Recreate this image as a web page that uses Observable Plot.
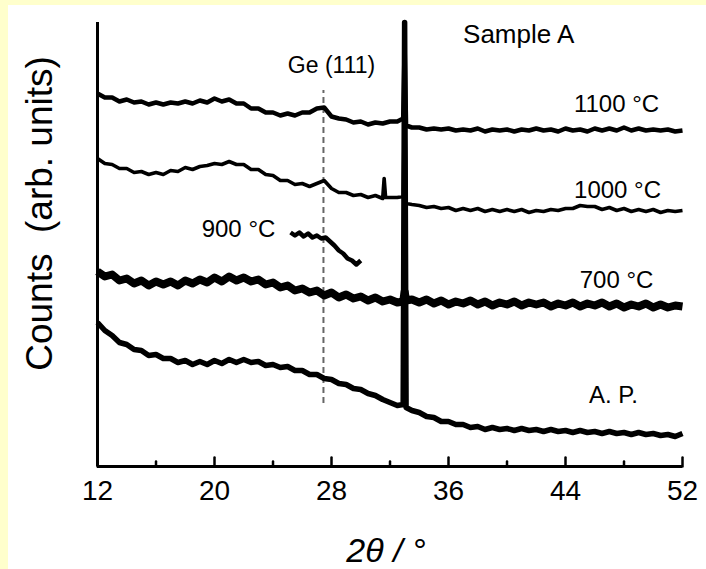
<!DOCTYPE html>
<html><head><meta charset="utf-8">
<script src="https://cdn.jsdelivr.net/npm/d3@7"></script>
<script src="https://cdn.jsdelivr.net/npm/@observablehq/plot@0.6"></script>
<style>
html,body{margin:0;padding:0;background:#FFFFCC;width:706px;height:569px;overflow:hidden}
#chart{position:absolute;left:8px;top:5px;width:698px;height:564px;background:#fff}
</style></head><body><div id="chart"></div>
<script>
// 2θ (degrees) and counts (arb. units)
const x1100 = [12,12.5,13,13.5,14,14.5,15,15.5,16,16.5,17,17.5,18,18.5,19,19.5,20,20.5,21,21.5,22,22.5,23,23.5,24,24.5,25,25.5,26,26.5,27,27.5,28,28.5,29,29.5,30,30.5,31,31.5,32,32.5,32.9,33,33.1,33.5,34,34.5,35,35.5,36,36.5,37,37.5,38,38.5,39,39.5,40,40.5,41,41.5,42,42.5,43,43.5,44,44.5,45,45.5,46,46.5,47,47.5,48,48.5,49,49.5,50,50.5,51,51.5,52];
const y1100 = [373,369,369,365,367,364,365,362,364,362,364,363,365,363,366,364,368,365,367,363,363,358,358,354,354,351,353,351,354,354,358,359,350,348,347,344,345,342,344,343,345,345,348,420,341,339,339,337,338,337,338,336,337,336,338,335,337,336,337,335,337,336,338,336,337,335,338,336,337,335,338,336,338,336,339,336,338,336,337,336,337,335,336];

const x1000 = [12,12.5,13,13.5,14,14.5,15,15.5,16,16.5,17,17.5,18,18.5,19,19.5,20,20.5,21,21.5,22,22.5,23,23.5,24,24.5,25,25.5,26,26.5,27,27.5,28,28.5,29,29.5,30,30.5,31,31.5,31.6,31.7,32,32.5,32.9,33,33.1,33.5,34,34.5,35,35.5,36,36.5,37,37.5,38,38.5,39,39.5,40,40.5,41,41.5,42,42.5,43,43.5,44,44.5,45,45.5,46,46.5,47,47.5,48,48.5,49,49.5,50,50.5,51,51.5,52];
const y1000 = [308,303,302,298,298,294,295,292,294,292,296,295,299,297,300,301,303,302,305,302,302,297,297,292,291,286,286,282,283,280,283,286,278,274,274,271,272,269,271,268,288,269,269,269,270,380,263,262,261,259,260,258,259,256,258,256,258,255,257,255,257,255,257,254,256,255,257,256,258,258,261,260,260,257,259,256,258,255,257,255,257,254,256,255,256];

const x900 = [25.2,25.5,25.8,26.1,26.4,26.7,27,27.3,27.6,27.9,28.2,28.5,28.8,29.1,29.4,29.7,30];
const y900 = [234,231,234,230,233,229,231,228,229,225,221,216,213,208,206,202,206];

const x700 = [12,12.5,13,13.5,14,14.5,15,15.5,16,16.5,17,17.5,18,18.5,19,19.5,20,20.5,21,21.5,22,22.5,23,23.5,24,24.5,25,25.5,26,26.5,27,27.5,28,28.5,29,29.5,30,30.5,31,31.5,32,32.5,32.9,33,33.1,33.5,34,34.5,35,35.5,36,36.5,37,37.5,38,38.5,39,39.5,40,40.5,41,41.5,42,42.5,43,43.5,44,44.5,45,45.5,46,46.5,47,47.5,48,48.5,49,49.5,50,50.5,51,51.5,52];
const y700 = [195,190,192,186,188,183,186,181,185,182,185,181,186,183,187,184,189,185,190,186,189,185,187,182,184,179,181,176,178,174,176,171,174,169,172,168,170,166,169,165,167,164,165,175,166,167,164,167,163,166,162,165,163,166,162,165,161,164,162,165,161,164,162,164,160,163,161,164,160,163,161,164,160,163,159,162,160,163,159,162,159,161,160];

const xAP = [12,12.5,13,13.5,14,14.5,15,15.5,16,16.5,17,17.5,18,18.5,19,19.5,20,20.5,21,21.5,22,22.5,23,23.5,24,24.5,25,25.5,26,26.5,27,27.5,28,28.5,29,29.5,30,30.5,31,31.5,32,32.5,32.9,33,33.1,33.5,34,34.5,35,35.5,36,36.5,37,37.5,38,38.5,39,39.5,40,40.5,41,41.5,42,42.5,43,43.5,44,44.5,45,45.5,46,46.5,47,47.5,48,48.5,49,49.5,50,50.5,51,51.5,52];
const yAP = [144,136,131,124,122,117,116,111,112,108,108,104,106,102,105,102,106,103,107,104,107,104,105,101,102,99,100,96,96,92,92,88,87,83,82,78,77,73,71,67,64,61,62,444,59,56,54,50,49,45,45,42,42,39,40,37,39,37,38,36,38,36,37,35,37,35,36,34,36,34,35,33,35,33,34,32,34,32,33,31,32,30,33];

const majorTicks = [12,20,28,36,44,52];
const minorTicks = [16,24,32,40,48];

const geX = [27.45];
const geY1 = [63];
const geY2 = [376];

const labelText = ["1100 °C","1000 °C","900 °C","700 °C","A. P."];
const labelX = [47.49,47.56,21.64,47.49,47.28];
const labelY = [362,276,237,186,71];

const titleText = ["Sample A"];
const titleX = [40.8];
const titleY = [432];
const geText = ["Ge (111)"];
const geTextX = [28.0];
const geTextY = [401];

const rows = (xs, ys) => xs.map((x, i) => ({x, y: ys[i]}));
const labels = labelText.map((t, i) => ({t, x: labelX[i], y: labelY[i]}));
const tickShape = {draw(context, l) { context.moveTo(0, 0); context.lineTo(0, -l); }};
const font = "'Liberation Sans', Arial, Helvetica, sans-serif";
const lineOpts = {x: "x", y: "y", stroke: "#000", strokeLinejoin: "round", strokeLinecap: "butt"};

const chart = Plot.plot({
  width: 698,
  height: 564,
  marginLeft: 89,
  marginRight: 24,
  marginTop: 17,
  marginBottom: 103,
  style: {fontFamily: font, background: "#fff", color: "#000"},
  x: {domain: [12, 52]},
  y: {domain: [0, 444], axis: null},
  marks: [
    Plot.ruleX(geX, {x: d => d, y1: geY1[0], y2: geY2[0], stroke: "#666", strokeWidth: 2, strokeDasharray: "6,4"}),
    Plot.line(rows(x1100, y1100), {...lineOpts, strokeWidth: 4.5}),
    Plot.line(rows(x1000, y1000), {...lineOpts, strokeWidth: 3.6}),
    Plot.line(rows(x900, y900), {...lineOpts, strokeWidth: 4.5}),
    Plot.line(rows(x700, y700), {...lineOpts, strokeWidth: 8}),
    Plot.line(rows(xAP, yAP), {...lineOpts, strokeWidth: 5.5}),
    Plot.ruleX([12], {stroke: "#000", strokeWidth: 3}),
    Plot.ruleY([0], {stroke: "#000", strokeWidth: 3}),
    Plot.vector(majorTicks, {x: d => d, y: 0, length: 9, anchor: "start", shape: tickShape, stroke: "#000", strokeWidth: 2.5}),
    Plot.vector(minorTicks, {x: d => d, y: 0, length: 5, anchor: "start", shape: tickShape, stroke: "#000", strokeWidth: 2.5}),
    Plot.axisX({ticks: majorTicks, tickSize: 0, tickPadding: 14, fontSize: 28, label: null, tickFormat: d => String(d)}),
    Plot.text(labels, {x: "x", y: "y", text: "t", fontSize: 24, fill: "#000"}),
    Plot.text(titleText, {x: () => titleX[0], y: () => titleY[0], text: d => d, fontSize: 26, fill: "#000"}),
    Plot.text(geText, {x: () => geTextX[0], y: () => geTextY[0], text: d => d, fontSize: 23, fill: "#000"}),
    Plot.text(["Counts  (arb. units)"], {frameAnchor: "left", textAnchor: "middle", lineAnchor: "middle", rotate: -90, dx: -57, dy: -31, fontSize: 37, fill: "#000"}),
    Plot.text(["2θ / °"], {frameAnchor: "bottom", textAnchor: "middle", lineAnchor: "middle", dx: -4, dy: 85, fontSize: 34, fontStyle: "italic", fill: "#000"})
  ]
});
document.getElementById("chart").appendChild(chart);
</script>
</body></html>
